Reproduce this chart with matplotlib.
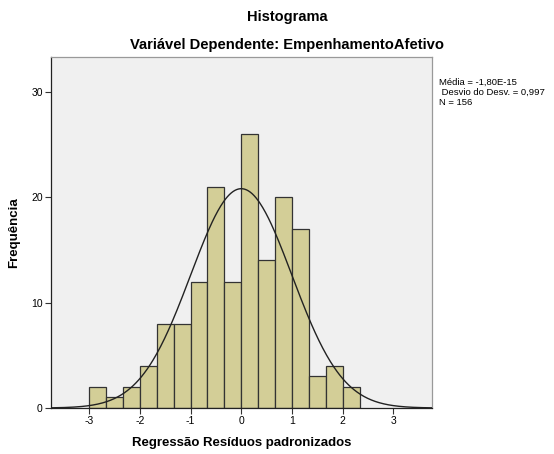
import numpy as np
import matplotlib
matplotlib.use("Agg")
import matplotlib.pyplot as plt

plt.rcParams['font.family'] = ['Liberation Sans', 'DejaVu Sans']
plt.rcParams['axes.unicode_minus'] = False

bin_edges = [-3, -8/3, -7/3, -2, -5/3, -4/3, -1, -2/3, -1/3, 0, 1/3, 2/3, 1, 4/3, 5/3, 2, 7/3]
counts = [2, 1, 2, 4, 8, 8, 12, 21, 12, 26, 14, 20, 17, 3, 4, 2]
mean = -1.80e-15
std = 0.997
n = 156
x_ticks = [-3, -2, -1, 0, 1, 2, 3]
y_ticks = [0, 10, 20, 30]

fig = plt.figure(figsize=(5.54, 4.54), dpi=100)
ax = fig.add_axes([51/554, 1 - 408/454, (432-51)/554, (408-57)/454])
ax.set_facecolor('#F0F0F0')

edges = np.array(bin_edges)
widths = np.diff(edges)
ax.bar(edges[:-1], counts, width=widths, align='edge', color='#D3CE97',
       edgecolor='#333333', linewidth=0.9, zorder=2)

xs = np.linspace(-3.75, 3.75, 400)
bw = widths[0]
ys = n * bw * np.exp(-0.5 * ((xs - mean) / std) ** 2) / (std * np.sqrt(2 * np.pi))
ax.plot(xs, ys, color='#222222', linewidth=1.0, zorder=3)

ax.set_xlim(-3.75, 3.76)
ax.set_ylim(0, 33.3)
ax.set_xticks(x_ticks)
ax.set_yticks(y_ticks)
ax.tick_params(labelsize=7.5, length=4, width=0.8, color='#333333', pad=2)
for s in ['left', 'bottom']:
    ax.spines[s].set_color('#222222')
    ax.spines[s].set_linewidth(0.9)
for s in ['top', 'right']:
    ax.spines[s].set_color('#999999')
    ax.spines[s].set_linewidth(0.9)

ax.set_xlabel('Regressão Resíduos padronizados', fontsize=9.5, fontweight='bold', labelpad=8)
ax.set_ylabel('Frequência', fontsize=9.5, fontweight='bold', labelpad=8)

fig.text(287/554, 1 - 17/454, 'Histograma', ha='center', va='center',
         fontsize=10.5, fontweight='bold')
fig.text(287/554, 1 - 45/454, 'Variável Dependente: EmpenhamentoAfetivo',
         ha='center', va='center', fontsize=10.6, fontweight='bold')

fig.text(439/554, 1 - 78/454,
         'Média = -1,80E-15\n Desvio do Desv. = 0,997\nN = 156',
         ha='left', va='top', fontsize=6.8, linespacing=1.12)

fig.savefig('out.png', dpi=100, facecolor='white')
